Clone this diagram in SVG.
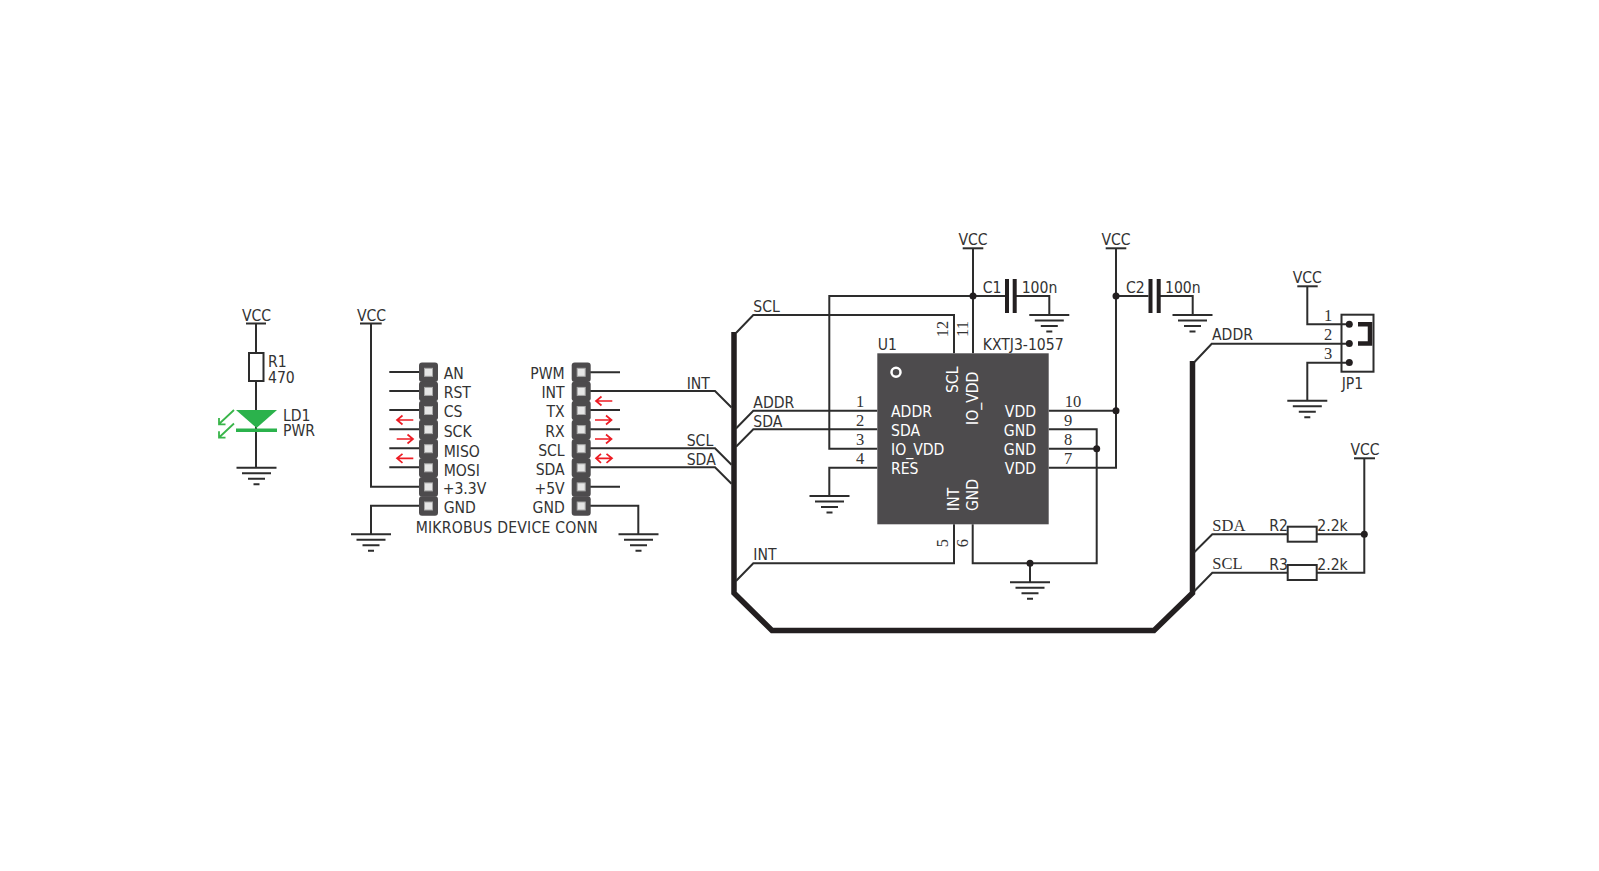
<svg xmlns="http://www.w3.org/2000/svg" width="1599" height="871" viewBox="0 0 1599 871">
<style>
text{font-family:"DejaVu Sans","Open Sans",sans-serif;font-stretch:condensed;font-size:15.600px;fill:#333}
text.s{font-family:"Liberation Serif",serif;font-stretch:normal;font-size:16.500px;fill:#333}
.m{text-anchor:middle}.e{text-anchor:end}
text.w{fill:#fff}
.l{fill:none;stroke:#2d2d2d;stroke-width:2}
.b{fill:none;stroke:#231f20;stroke-width:5.500}
.r{fill:none;stroke:#ed1c24;stroke-width:1.700}
.g{fill:none;stroke:#39b54a;stroke-width:1.800}
.d{fill:#231f20}
.hd{fill:#4d4b4d}
.pin{fill:#e6e6e6;stroke:#a8a8a8;stroke-width:1}
</style>
<defs>
<g id="gnd"><path class="l" d="M-20 0H20M-14.500 5.500H14.500M-8.500 11H8.500M-3 16.500H3"/></g>
<g id="seg"><rect x="0" y="0" width="19" height="19.600" rx="3" class="hd"/><rect class="pin" x="5.500" y="5.800" width="8" height="8"/></g>
<g id="hdr"><use href="#seg" y="0"/><use href="#seg" y="19.100"/><use href="#seg" y="38.200"/><use href="#seg" y="57.300"/><use href="#seg" y="76.400"/><use href="#seg" y="95.500"/><use href="#seg" y="114.600"/><use href="#seg" y="133.700"/></g>
</defs>

<g id="connectors">
<path class="b" d="M734 332V593L772 630.500H1154L1192.500 593V361"/>
<path class="l" d="M256 323.500V352.700M256 381V467.700"/>
<path class="l" d="M371 323.500V486.700H419M419 505.700H371V534.300"/>
<path class="l" d="M389.300 372H419M389.300 391H419M389.300 410H419M389.300 429.300H419M389.300 448.300H419M389.300 467.300H419"/>
<path class="l" d="M590 372.300H620M590 410H620M590 429.300H620M590 486.700H620M590 505.700H638.300V534.300"/>
<path class="l" d="M590 391H715L731.500 407.500M590 448.300H715L731.500 464.800M590 467.300H715L731.500 483.800"/>
<path class="l" d="M736 333L753.300 315H954V353.300"/>
<path class="l" d="M736 428.500L753.300 410.700H877.300M736 446.700L753.300 429.300H877.300"/>
<path class="l" d="M1006 296H829.300V448.700H877.300M877.300 467.700H829.300V496"/>
<path class="l" d="M973 248.300V353.300"/>
<path class="l" d="M1016 296H1049.300V315"/>
<path class="l" d="M736 581L753.300 563.300H954V524.300M972.700 524.300V563.300H1096.700V429.300H1048.700M1048.700 448.700H1096.700M1030 563.300V582.300"/>
<path class="l" d="M1048.700 410.700H1116M1048.700 467.700H1116V248.300M1116 296H1148.500M1160 296H1192.700V315"/>
<path class="l" d="M1194.500 362L1211.700 343.700H1349M1307.300 286.300V324.300H1349M1349 362.700H1307.300V400.700"/>
<path class="l" d="M1194.500 552L1212.300 534.300H1287.700M1316.700 534.300H1364.300M1194.500 591L1212.300 572.700H1287.700M1316.700 572.700H1364.300V458.300"/>
<path class="r" d="M413.300 420H397M402.500 415.500L397 420L402.500 424.500M396.700 439H413M407.500 434.500L413 439L407.500 443.500M413.300 458.300H397M402.500 453.800L397 458.300L402.500 462.800"/>
<path class="r" d="M612.300 401H596M601.500 396.500L596 401L601.500 405.500M595 420H611.500M606 415.500L611.500 420L606 424.500M595 439H611.500M606 434.500L611.500 439L606 443.500M596 458.300H611.500M601 453.800L596 458.300L601 462.800M606.500 453.800L612 458.300L606.500 462.800"/>
<circle class="d" cx="973" cy="296" r="3.500"/><circle class="d" cx="1116" cy="296" r="3.500"/><circle class="d" cx="1116" cy="410.700" r="3.500"/><circle class="d" cx="1096.700" cy="448.700" r="3.500"/><circle class="d" cx="1030" cy="563.300" r="3.500"/><circle class="d" cx="1364.300" cy="534.300" r="3.500"/>
</g>

<g id="vcc-labels">
<text class="m" x="256.500" y="321">VCC</text><path class="l" d="M246 323.500H266"/>
<text class="m" x="371.500" y="321">VCC</text><path class="l" d="M360 323.500H381.700"/>
<text class="m" x="973" y="245">VCC</text><path class="l" d="M962.700 248.300H983.300"/>
<text class="m" x="1116" y="245">VCC</text><path class="l" d="M1105.700 248.300H1126.300"/>
<text class="m" x="1307.300" y="283">VCC</text><path class="l" d="M1297.300 286.300H1317.700"/>
<text class="m" x="1365" y="454.500">VCC</text><path class="l" d="M1354 458.300H1375"/>
</g>

<g id="grounds">
<use href="#gnd" x="256.500" y="467.700"/><use href="#gnd" x="371" y="534.300"/><use href="#gnd" x="638.500" y="534.300"/><use href="#gnd" x="829.500" y="496"/><use href="#gnd" x="1049.300" y="315"/><use href="#gnd" x="1192.500" y="315"/><use href="#gnd" x="1030" y="582.300"/><use href="#gnd" x="1307.300" y="400.700"/>
</g>

<g id="R1"><rect x="249" y="353" width="14.500" height="28" fill="#fff" stroke="#2d2d2d" stroke-width="2"/><text x="268" y="366.500">R1</text><text x="268" y="382.500">470</text></g>
<g id="LD1">
<path fill="#2bb24c" d="M236 410H277L256.500 428Z"/><rect x="236" y="428.500" width="41" height="3.500" fill="#2bb24c"/>
<path class="g" d="M234 410L219 424M219 418V424.300H225.500M234 423.500L219 437.500M219 431.300V437.700H225.500"/>
<text x="283" y="420.500">LD1</text><text x="283" y="436">PWR</text>
</g>

<g id="mikrobus">
<use href="#hdr" x="419" y="362.500"/><use href="#hdr" x="571.700" y="362.500"/>
<text x="443.700" y="378.500">AN</text><text x="443.700" y="398">RST</text><text x="443.700" y="417">CS</text><text x="443.700" y="436.500">SCK</text><text x="443.700" y="456.700">MISO</text><text x="443.700" y="476">MOSI</text><text x="442.700" y="493.500">+3.3V</text><text x="443.700" y="512.500">GND</text>
<text class="e" x="564.700" y="378.500">PWM</text><text class="e" x="564.700" y="398">INT</text><text class="e" x="564.700" y="417">TX</text><text class="e" x="564.700" y="436.500">RX</text><text class="e" x="564.700" y="455.700">SCL</text><text class="e" x="564.700" y="474.700">SDA</text><text class="e" x="564.700" y="494">+5V</text><text class="e" x="564.700" y="512.500">GND</text>
<text x="415.700" y="533" textLength="182">MIKROBUS DEVICE CONN</text>
</g>

<g id="net-labels">
<text x="686.700" y="389">INT</text><text x="686.700" y="446">SCL</text><text x="686.700" y="465">SDA</text>
<text x="753.300" y="311.700">SCL</text><text x="753.300" y="407.700">ADDR</text><text x="753.300" y="426.500">SDA</text><text x="753.300" y="560">INT</text>
<text x="1212" y="340">ADDR</text>
<text class="s" x="1212.300" y="531">SDA</text><text class="s" x="1212.300" y="569">SCL</text>
</g>

<g id="U1">
<rect class="hd" x="877.300" y="353.300" width="171.400" height="171"/>
<circle cx="896" cy="372.300" r="4.500" fill="none" stroke="#fff" stroke-width="2.500"/>
<text x="877.700" y="350">U1</text><text x="982.700" y="350">KXTJ3-1057</text>
<text class="w" x="891" y="416.700">ADDR</text><text class="w" x="891" y="436">SDA</text><text class="w" x="891" y="455">IO_VDD</text><text class="w" x="891" y="474">RES</text>
<text class="w e" x="1036" y="416.700">VDD</text><text class="w e" x="1036" y="436">GND</text><text class="w e" x="1036" y="455">GND</text><text class="w e" x="1036" y="474">VDD</text>
<text class="w" transform="translate(958.300 393) rotate(-90)">SCL</text><text class="w" transform="translate(978 425) rotate(-90)">IO_VDD</text>
<text class="w" transform="translate(959 511) rotate(-90)">INT</text><text class="w" transform="translate(978 511) rotate(-90)">GND</text>
<g class="pins">
<text class="s m" x="860" y="406.700">1</text><text class="s m" x="860" y="426">2</text><text class="s m" x="860" y="445">3</text><text class="s m" x="860" y="464">4</text>
<text class="s m" x="1073" y="406.700">10</text><text class="s m" x="1068" y="426">9</text><text class="s m" x="1068" y="445">8</text><text class="s m" x="1068" y="464">7</text>
<text class="s m" transform="translate(948 329) rotate(-90)">12</text><text class="s m" transform="translate(967.500 329) rotate(-90)">11</text>
<text class="s m" transform="translate(948 543) rotate(-90)">5</text><text class="s m" transform="translate(968 543) rotate(-90)">6</text>
</g>
</g>

<g id="C1"><path d="M1007 279V313M1014.700 279V313" fill="none" stroke="#231f20" stroke-width="4"/><text x="982.700" y="292.700">C1</text><text x="1021.700" y="292.700">100n</text></g>
<g id="C2"><path d="M1150.500 279V313M1158.700 279V313" fill="none" stroke="#231f20" stroke-width="4"/><text x="1126" y="292.700">C2</text><text x="1165" y="292.700">100n</text></g>

<g id="JP1">
<rect x="1341.500" y="314.700" width="32" height="57" fill="none" stroke="#2d2d2d" stroke-width="2"/>
<circle class="d" cx="1349.300" cy="324.300" r="3.500"/><circle class="d" cx="1349.300" cy="343.500" r="3.500"/><circle class="d" cx="1349.300" cy="362.500" r="3.500"/>
<path d="M1358 324.300H1370V343.500H1358" fill="none" stroke="#231f20" stroke-width="4.500"/>
<text class="s m" x="1328" y="321">1</text><text class="s m" x="1328" y="340">2</text><text class="s m" x="1328" y="359">3</text>
<text x="1341.700" y="389">JP1</text>
</g>

<g id="R2"><rect x="1287.700" y="526.700" width="29" height="15" fill="#fff" stroke="#2d2d2d" stroke-width="2"/><text x="1269.300" y="531">R2</text><text x="1317.300" y="531">2.2k</text></g>
<g id="R3"><rect x="1287.700" y="565" width="29" height="15" fill="#fff" stroke="#2d2d2d" stroke-width="2"/><text x="1269.300" y="569.500">R3</text><text x="1317.300" y="569.500">2.2k</text></g>
</svg>
